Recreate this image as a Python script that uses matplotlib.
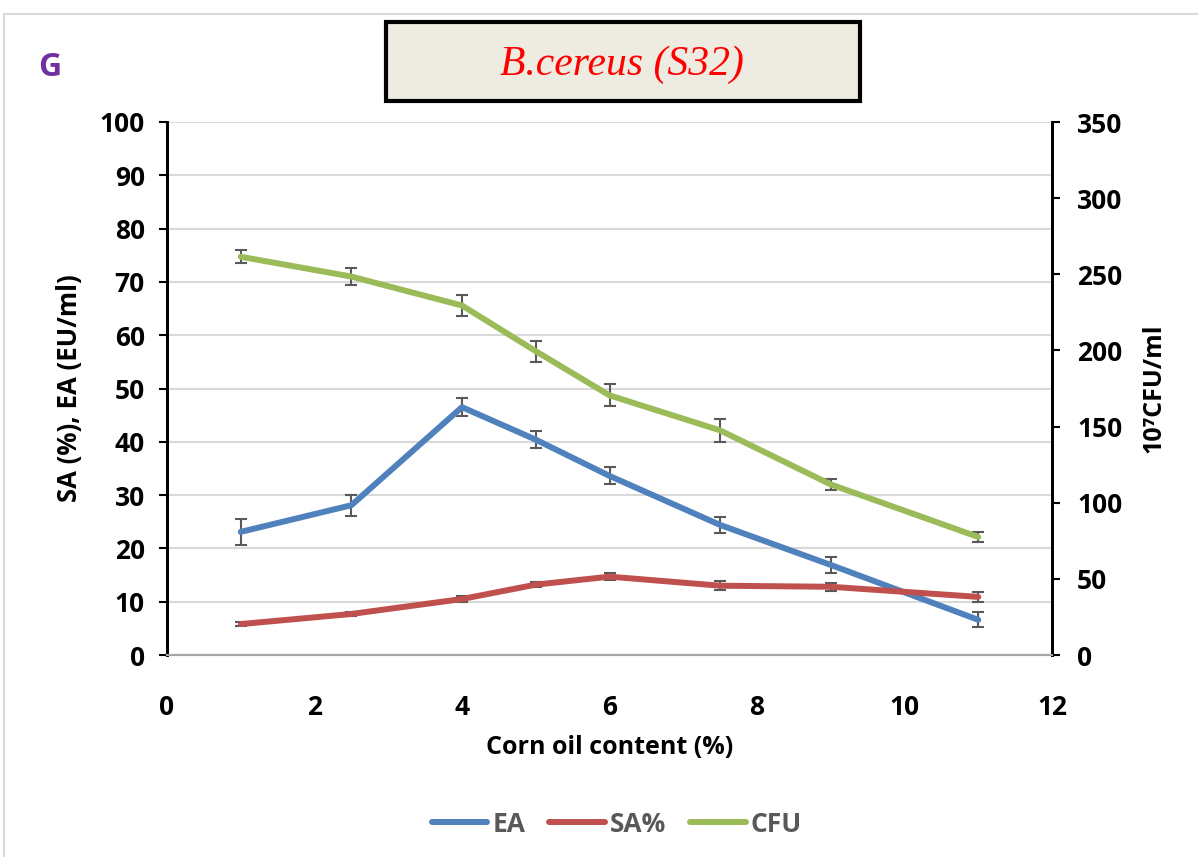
import matplotlib
matplotlib.use('Agg')
import matplotlib.pyplot as plt
from matplotlib.patches import Rectangle

plt.rcParams['font.family'] = ['Open Sans', 'DejaVu Sans']
plt.rcParams['font.weight'] = 'bold'
plt.rcParams['axes.labelweight'] = 'bold'

# corn oil content (%)
oil = [1, 2.5, 4, 5, 6, 7.5, 9, 11]

# emulsification activity (EU/ml)
ea = [23.1, 28.1, 46.5, 40.4, 33.6, 24.4, 16.9, 6.6]
ea_err = [2.4, 2.0, 1.7, 1.6, 1.6, 1.5, 1.5, 1.4]

# surface activity (%)
sa = [5.8, 7.7, 10.5, 13.2, 14.7, 13.0, 12.8, 10.9]
sa_err = [0.4, 0.4, 0.6, 0.5, 0.6, 0.8, 0.8, 1.0]

# viable count (10^7 CFU/ml)
cfu = [261.5, 248.5, 229.5, 199.5, 170.5, 147.5, 112.0, 77.5]
cfu_err = [4.3, 5.3, 6.6, 6.9, 7.2, 7.6, 3.6, 3.0]

ea_color = '#4F81BD'
sa_color = '#C0504D'
cfu_color = '#9BBB59'
err_color = '#595959'

fig = plt.figure(figsize=(11.98, 8.57), dpi=100)

# light outer frame of the chart area
fig.patches.append(Rectangle((4 / 1198, -0.01), 1.2, 1 - 14 / 857 + 0.01,
                             transform=fig.transFigure, fill=False,
                             edgecolor='#D9D9D9', linewidth=1.5))

ax = fig.add_axes([167 / 1198, 1 - 655 / 857, (1052 - 167) / 1198, (655 - 122) / 857])
ax2 = ax.twinx()

err_kw = dict(ecolor=err_color, elinewidth=1.5, capsize=4, capthick=1.5)

ax.errorbar(oil, ea, yerr=ea_err, color=ea_color, lw=4.3, label='EA',
            solid_capstyle='round', **err_kw)
ax.errorbar(oil, sa, yerr=sa_err, color=sa_color, lw=4.3, label='SA%',
            solid_capstyle='round', **err_kw)
ax2.errorbar(oil, cfu, yerr=cfu_err, color=cfu_color, lw=4.3, label='CFU',
             solid_capstyle='round', **err_kw)

ax.set_xlim(0, 12)
ax.set_ylim(0, 100)
ax2.set_ylim(0, 350)
ax.set_xticks(range(0, 13, 2))
ax.set_yticks(range(0, 101, 10))
ax2.set_yticks(range(0, 351, 50))

ax.grid(axis='y', color='#D9D9D9', linewidth=1.5)
ax.set_axisbelow(True)

for a in (ax, ax2):
    a.spines['top'].set_visible(False)
    a.spines['left'].set_linewidth(2)
    a.spines['right'].set_linewidth(2)
    a.spines['bottom'].set_color('#A6A6A6')
    a.spines['bottom'].set_linewidth(1.5)
ax.tick_params(axis='y', length=6, width=1.5, labelsize=19, pad=10)
ax2.tick_params(axis='y', length=6, width=1.5, labelsize=19, pad=12)
ax.tick_params(axis='x', length=0, labelsize=19, pad=28)

ax.set_xlabel('Corn oil content (%)', fontsize=18, labelpad=10)
ax.set_ylabel('SA (%), EA (EU/ml)', fontsize=18.5, labelpad=12)
ax2.set_ylabel('10\u2077CFU/ml', fontsize=18, labelpad=14)

h1, l1 = ax.get_legend_handles_labels()
h2, l2 = ax2.get_legend_handles_labels()
leg = fig.legend([h[0] for h in h1 + h2], l1 + l2, loc='center',
                 bbox_to_anchor=(617 / 1198, 1 - 824 / 857), ncol=3,
                 frameon=False, fontsize=19, handlelength=2.1,
                 columnspacing=0.9, handletextpad=0.2)
for t in leg.get_texts():
    t.set_color('#595959')

# title box
fig.patches.append(Rectangle((386 / 1198, 1 - 101 / 857), (860 - 386) / 1198, 79 / 857,
                             transform=fig.transFigure, facecolor='#EEEBE0',
                             edgecolor='black', linewidth=3))
fig.text(622 / 1198, 1 - 65 / 857, 'B.cereus (S32)', color='red',
         fontsize=30, fontstyle='italic', fontweight='normal',
         family='Liberation Serif', ha='center', va='center')

fig.text(50 / 1198, 1 - 68 / 857, 'G', color='#7030A0', fontsize=23,
         ha='center', va='center')

fig.savefig('out.png', dpi=100)
